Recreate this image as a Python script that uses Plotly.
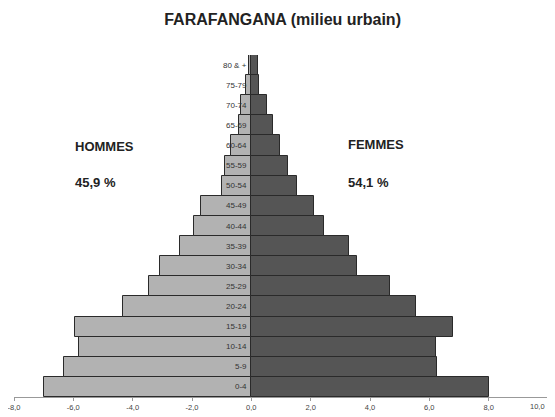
import plotly.graph_objects as go

age_groups = ["0-4", "5-9", "10-14", "15-19", "20-24", "25-29", "30-34", "35-39",
              "40-44", "45-49", "50-54", "55-59", "60-64", "65-69", "70-74", "75-79", "80 & +"]
hommes = [7.0, 6.33, 5.8, 5.93, 4.31, 3.45, 3.09, 2.42, 1.92, 1.70, 0.99, 0.90, 0.67, 0.41, 0.34, 0.19, 0.09]
femmes = [8.0, 6.26, 6.24, 6.79, 5.55, 4.68, 3.56, 3.30, 2.46, 2.10, 1.54, 1.25, 0.98, 0.72, 0.53, 0.25, 0.21]
tick_vals = [-8, -6, -4, -2, 0, 2, 4, 6, 8, 10]
tick_text = ["-8,0", "-6,0", "-4,0", "-2,0", "0,0", "2,0", "4,0", "6,0", "8,0", "10,0"]

tick_font = dict(family="Liberation Sans Narrow, Arial", size=7.5, color="#444444")

fig = go.Figure()
fig.add_trace(go.Bar(y=age_groups, x=[-v for v in hommes], orientation="h",
                     marker=dict(color="#b2b2b2", line=dict(color="#2a2a2a", width=1)),
                     name="Hommes", hoverinfo="skip"))
fig.add_trace(go.Bar(y=age_groups, x=femmes, orientation="h",
                     marker=dict(color="#555555", line=dict(color="#2a2a2a", width=1)),
                     name="Femmes", hoverinfo="skip"))

annotations = []
for g in age_groups:
    annotations.append(dict(x=0, y=g, xref="x", yref="y", text=g, showarrow=False,
                            xanchor="right", yanchor="middle", xshift=-2,
                            font=dict(family="Liberation Sans Narrow, Arial", size=8, color="#333333")))

lab_font = dict(family="Liberation Sans Narrow, Arial Narrow, Arial", size=13, color="#222222")
annotations += [
    dict(x=-6.0, y=0.731, xref="x", yref="paper", text="<b>HOMMES</b>", showarrow=False,
         xanchor="left", yanchor="middle", font=lab_font),
    dict(x=-6.0, y=0.626, xref="x", yref="paper", text="<b>45,9 %</b>", showarrow=False,
         xanchor="left", yanchor="middle", font=lab_font),
    dict(x=3.2, y=0.737, xref="x", yref="paper", text="<b>FEMMES</b>", showarrow=False,
         xanchor="left", yanchor="middle", font=lab_font),
    dict(x=3.2, y=0.626, xref="x", yref="paper", text="<b>54,1 %</b>", showarrow=False,
         xanchor="left", yanchor="middle", font=lab_font),
    # last tick label placed so it stays inside the window
    dict(x=tick_vals[-1], y=0, xref="x", yref="paper", text=tick_text[-1], showarrow=False,
         xanchor="right", yanchor="top", xshift=-1, yshift=-3, font=tick_font),
]

fig.update_layout(
    width=547, height=409,
    margin=dict(l=6, r=7, t=47, b=20),
    paper_bgcolor="white", plot_bgcolor="white",
    barmode="relative", bargap=0,
    showlegend=False,
    title=dict(text="<b>FARAFANGANA (milieu urbain)</b>", x=0.502, xanchor="center", y=0.971, yanchor="middle",
               font=dict(family="Liberation Sans Narrow, Arial Narrow, Arial", size=16, color="#222222")),
    xaxis=dict(range=[-8, 10], tickvals=tick_vals, ticktext=tick_text[:-1] + [""], showgrid=False, zeroline=False,
               showline=True, linecolor="#999999", linewidth=1, ticks="outside", ticklen=3, tickcolor="#999999",
               automargin=False, ticklabeloverflow="allow",
               tickfont=tick_font),
    yaxis=dict(showticklabels=False, showgrid=False, zeroline=False, showline=False, automargin=False,
               range=[-0.5, 16.5]),
    annotations=annotations,
)

fig.write_html("out.html")
